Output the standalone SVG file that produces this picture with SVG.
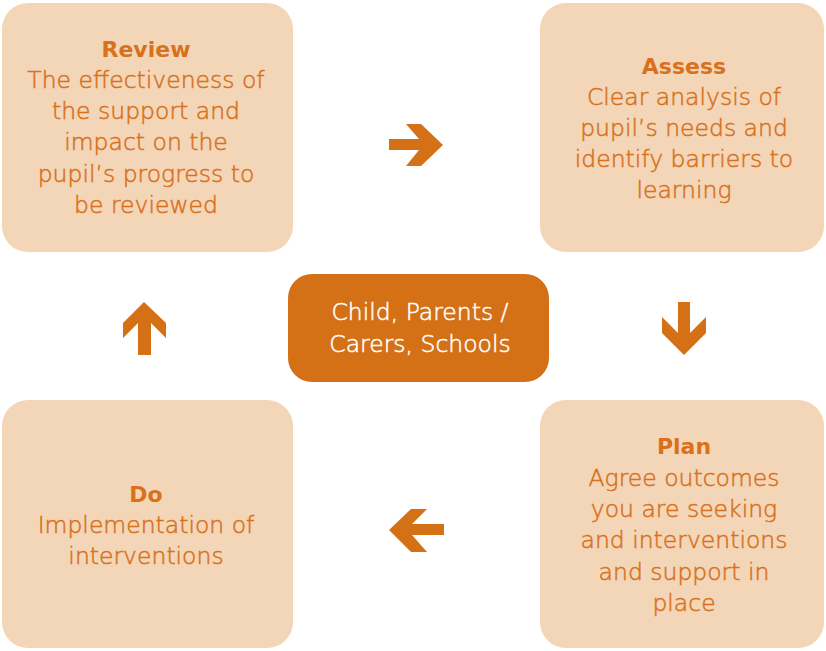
<svg xmlns="http://www.w3.org/2000/svg" width="826" height="651" viewBox="0 0 826 651">
<style>
.box{fill:#F3D6B7;}
.center{fill:#D47016;}
.t{font-family:"DejaVu Sans",Lato,sans-serif;font-size:23.5px;font-weight:300;fill:#D9711C;stroke:#D9711C;stroke-width:0.5px;text-anchor:middle;}
.b{font-weight:bold;font-size:22px;stroke:none;}
.w{fill:#FFFFFF;stroke:#FFFFFF;}
.arrow{fill:#D47016;}
</style>
<rect width="826" height="651" fill="#FFFFFF"/>
<g id="review">
<rect class="box" x="2" y="3" width="291" height="249" rx="26"/>
<text class="t b" x="146" y="57">Review</text>
<text class="t" x="146" y="88">The effectiveness of</text>
<text class="t" x="146" y="119">the support and</text>
<text class="t" x="146" y="150">impact on the</text>
<text class="t" x="146" y="182">pupil’s progress to</text>
<text class="t" x="146" y="213">be reviewed</text>
</g>
<g id="assess">
<rect class="box" x="540" y="3" width="284" height="249" rx="26"/>
<text class="t b" x="684" y="74">Assess</text>
<text class="t" x="684" y="105">Clear analysis of</text>
<text class="t" x="684" y="136">pupil’s needs and</text>
<text class="t" x="684" y="167">identify barriers to</text>
<text class="t" x="684" y="198">learning</text>
</g>
<g id="plan">
<rect class="box" x="540" y="400" width="284" height="248" rx="26"/>
<text class="t b" x="684" y="454">Plan</text>
<text class="t" x="684" y="486">Agree outcomes</text>
<text class="t" x="684" y="517">you are seeking</text>
<text class="t" x="684" y="548">and interventions</text>
<text class="t" x="684" y="580">and support in</text>
<text class="t" x="684" y="611">place</text>
</g>
<g id="do">
<rect class="box" x="2" y="400" width="291" height="248" rx="26"/>
<text class="t b" x="146" y="502">Do</text>
<text class="t" x="146" y="533">Implementation of</text>
<text class="t" x="146" y="564">interventions</text>
</g>
<g id="center">
<rect class="center" x="288" y="274" width="261" height="108" rx="24"/>
<text class="t w" x="420" y="320">Child, Parents /</text>
<text class="t w" x="420" y="352">Carers, Schools</text>
</g>
<g id="connectors">
<polygon class="arrow" points="389,139 419,139 406,124 421,124 443,145 421,166 406,166 419,150 389,150"/>
<polygon class="arrow" points="678,302 678,333 662,317 662,333 684,355 706,333 706,317 690,333 690,302"/>
<polygon class="arrow" points="444,524 412,524 427,509 411,509 389,530 411,552 427,552 412,535 444,535"/>
<polygon class="arrow" points="138,355 138,323 123,338 123,323 144,302 166,323 166,338 151,323 151,355"/>
</g>
</svg>
